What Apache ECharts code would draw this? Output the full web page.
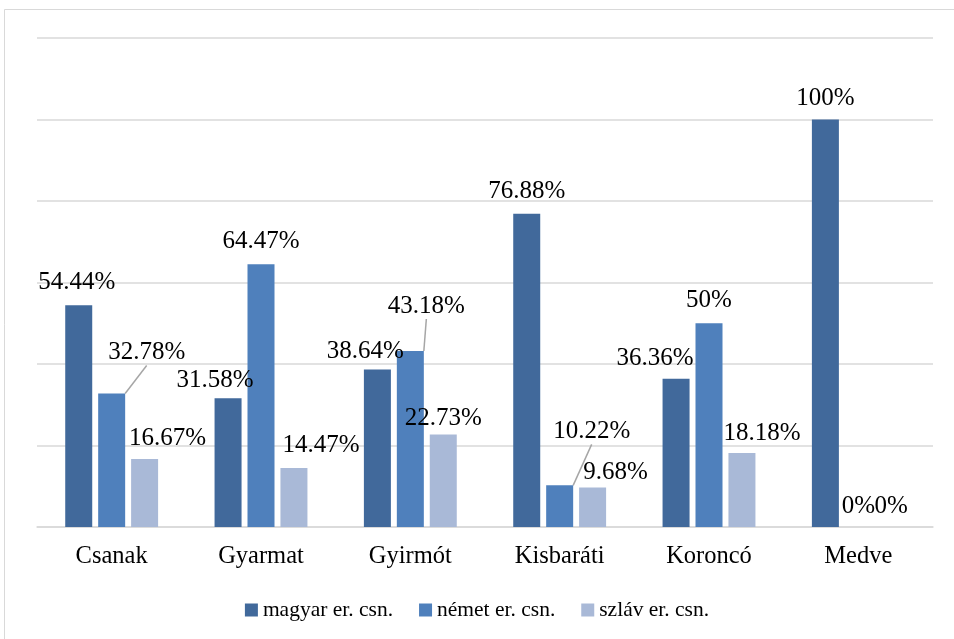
<!DOCTYPE html>
<html>
<head>
<meta charset="utf-8">
<script src="https://cdn.jsdelivr.net/npm/echarts@6/dist/echarts.min.js"></script>
<style>
  html, body { margin: 0; padding: 0; background: #fff; }
  #chart { width: 954px; height: 639px; }
</style>
</head>
<body>
<div id="chart"></div>
<script>
const categories = ["Csanak", "Gyarmat", "Gyirmót", "Kisbaráti", "Koroncó", "Medve"];
const seriesNames = ["magyar er. csn.", "német er. csn.", "szláv er. csn."];
const magyar = [54.44, 31.58, 38.64, 76.88, 36.36, 100];
const nemet = [32.78, 64.47, 43.18, 10.22, 50, 0];
const szlav = [16.67, 14.47, 22.73, 9.68, 18.18, 0];
const colors = ["#41699b", "#4f80bc", "#a9b9d7"];

// label nudges [dx, dy] per series / category, like the original layout
const labelShift = [
  [[-2, -5], [-13, 0], [-12, -1], [0, -5], [-21, -3], [0, -4]],
  [[35, -23], [0, -5], [16, -27], [32, -36], [0, -5], [0, -3]],
  [[23, -3], [27, -5], [0, 2], [23, 2], [20, -2], [0, -3]],
];
// which labels get a leader line
const withLine = [[], [0, 2, 3], []];

const font = "'Liberation Serif', 'Times New Roman', serif";

function fmt(v) {
  return String(v) + "%";
}

function makeSeries(name, values, si) {
  return {
    name: name,
    type: "bar",
    barWidth: 27,
    barGap: "22%",
    itemStyle: { color: colors[si] },
    data: values.map((v, i) => ({
      value: v,
      labelLine: { show: withLine[si].includes(i) },
    })),
    label: {
      show: true,
      position: "top",
      distance: 5,
      color: "#000",
      fontFamily: font,
      fontSize: 25,
      formatter: (p) => fmt(p.value),
    },
    labelLine: {
      show: false,
      lineStyle: { color: "#a6a6a6", width: 1.5 },
    },
    labelLayout: (p) => {
      const s = labelShift[si][p.dataIndex];
      return { dx: s[0], dy: s[1] };
    },
  };
}

const chart = echarts.init(document.getElementById("chart"), null, { renderer: "canvas" });

chart.setOption({
  animation: false,
  backgroundColor: "#fff",
  textStyle: { fontFamily: font },
  graphic: [
    {
      type: "rect",
      shape: { x: 4.5, y: 9.5, width: 980, height: 660 },
      style: { fill: "none", stroke: "#d9d9d9", lineWidth: 1 },
      silent: true,
    },
  ],
  grid: { left: 37, right: 21, top: 38, bottom: 112 },
  legend: {
    top: 594,
    left: "center",
    icon: "rect",
    itemWidth: 13,
    itemHeight: 13,
    itemGap: 26,
    textStyle: { fontFamily: font, fontSize: 21.5, color: "#000" },
    data: seriesNames,
  },
  xAxis: {
    type: "category",
    data: categories,
    axisTick: { show: false },
    axisLine: { lineStyle: { color: "#d9d9d9", width: 1.5 } },
    axisLabel: { color: "#000", fontFamily: font, fontSize: 24.5, margin: 17 },
  },
  yAxis: {
    type: "value",
    min: 0,
    max: 120,
    interval: 20,
    axisLabel: { show: false },
    axisLine: { show: false },
    axisTick: { show: false },
    splitLine: { lineStyle: { color: "#d9d9d9", width: 1.5 } },
  },
  series: [
    makeSeries(seriesNames[0], magyar, 0),
    makeSeries(seriesNames[1], nemet, 1),
    makeSeries(seriesNames[2], szlav, 2),
  ],
});
</script>
</body>
</html>
